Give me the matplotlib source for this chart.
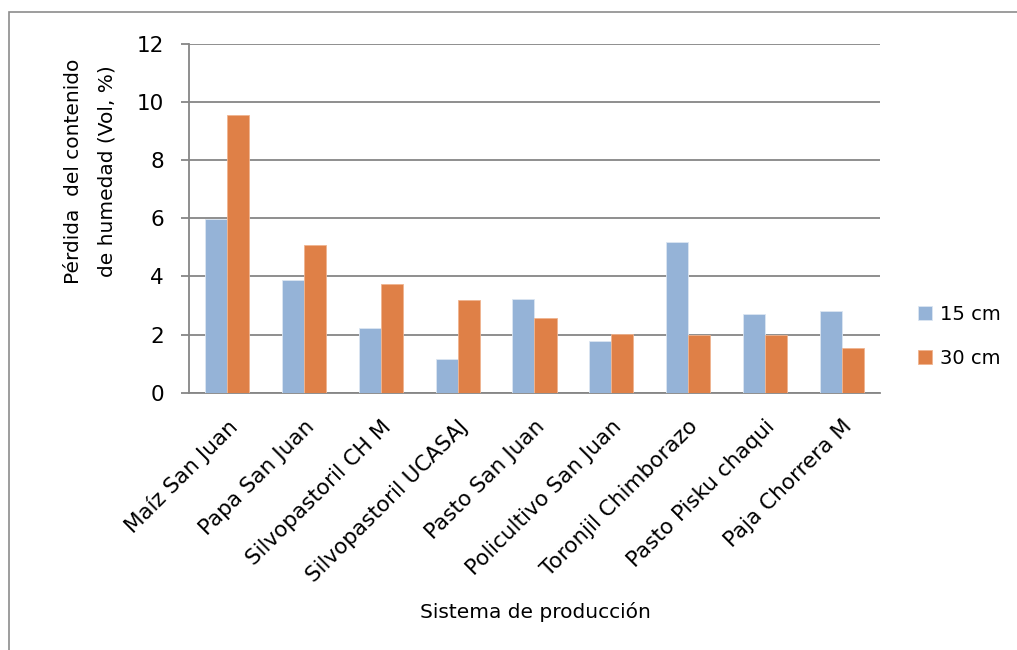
import matplotlib
matplotlib.use('Agg')
import matplotlib.pyplot as plt
from matplotlib.patches import Rectangle
import numpy as np

sistemas = ['Maíz San Juan', 'Papa San Juan', 'Silvopastoril CH M',
            'Silvopastoril UCASAJ', 'Pasto San Juan', 'Policultivo San Juan',
            'Toronjil Chimborazo', 'Pasto Pisku chaqui', 'Paja Chorrera M']
perdida_15 = [5.97, 3.89, 2.22, 1.15, 3.22, 1.79, 5.18, 2.72, 2.81]
perdida_30 = [9.54, 5.07, 3.73, 3.19, 2.57, 2.01, 1.98, 1.98, 1.54]
series = ['15 cm', '30 cm']

plt.rcParams['font.family'] = 'DejaVu Sans'

fig = plt.figure(figsize=(10.17, 6.5), dpi=100)
ax = fig.add_axes([0.1858, 0.3958, 0.6795, 0.537])

# outer chart frame
fig.patches.append(Rectangle((9 / 1017, -0.05), 1.1, 1 - 12 / 650 + 0.05,
                             transform=fig.transFigure, fill=False,
                             edgecolor='#8c8c8c', linewidth=1.2))

x = np.arange(len(sistemas))
w = 0.287
ax.bar(x - w / 2, perdida_15, w, color='#95b3d7', edgecolor='#dbe6f2',
       linewidth=0.6, label=series[0], zorder=3)
ax.bar(x + w / 2, perdida_30, w, color='#df8047', edgecolor='#f0b48f',
       linewidth=0.6, label=series[1], zorder=3)

ax.set_xlim(-0.5, len(sistemas) - 0.5)
ax.set_ylim(0, 12)
ax.set_yticks(range(0, 13, 2))
ax.yaxis.grid(True, color='#868686', linewidth=1.3, zorder=0)
ax.tick_params(axis='y', length=6, width=1.3, color='#868686',
               labelsize=15.5, pad=12)
ax.tick_params(axis='x', length=0, pad=17)
for s in ['top', 'right']:
    ax.spines[s].set_visible(False)
for s in ['left', 'bottom']:
    ax.spines[s].set_color('#868686')
    ax.spines[s].set_linewidth(1.3)

ax.set_xticks(x)
ax.set_xticklabels(sistemas, rotation=45, ha='right', rotation_mode='anchor',
                   fontsize=15.5)

fig.text(90 / 1017, 1 - 171 / 650, 'Pérdida  del contenido\nde humedad (Vol, %)',
         rotation=90, ha='center', va='center', multialignment='center',
         fontsize=14.5, linespacing=1.95)
fig.text(535 / 1017, 1 - 612 / 650, 'Sistema de producción', fontsize=14.5,
         ha='center', va='center')

ax.legend(loc='center left', bbox_to_anchor=(1.03, 0.162), frameon=False,
          fontsize=14, handlelength=0.7, handleheight=0.7, handletextpad=0.4,
          labelspacing=1.3)

fig.savefig('out.png', dpi=100)
